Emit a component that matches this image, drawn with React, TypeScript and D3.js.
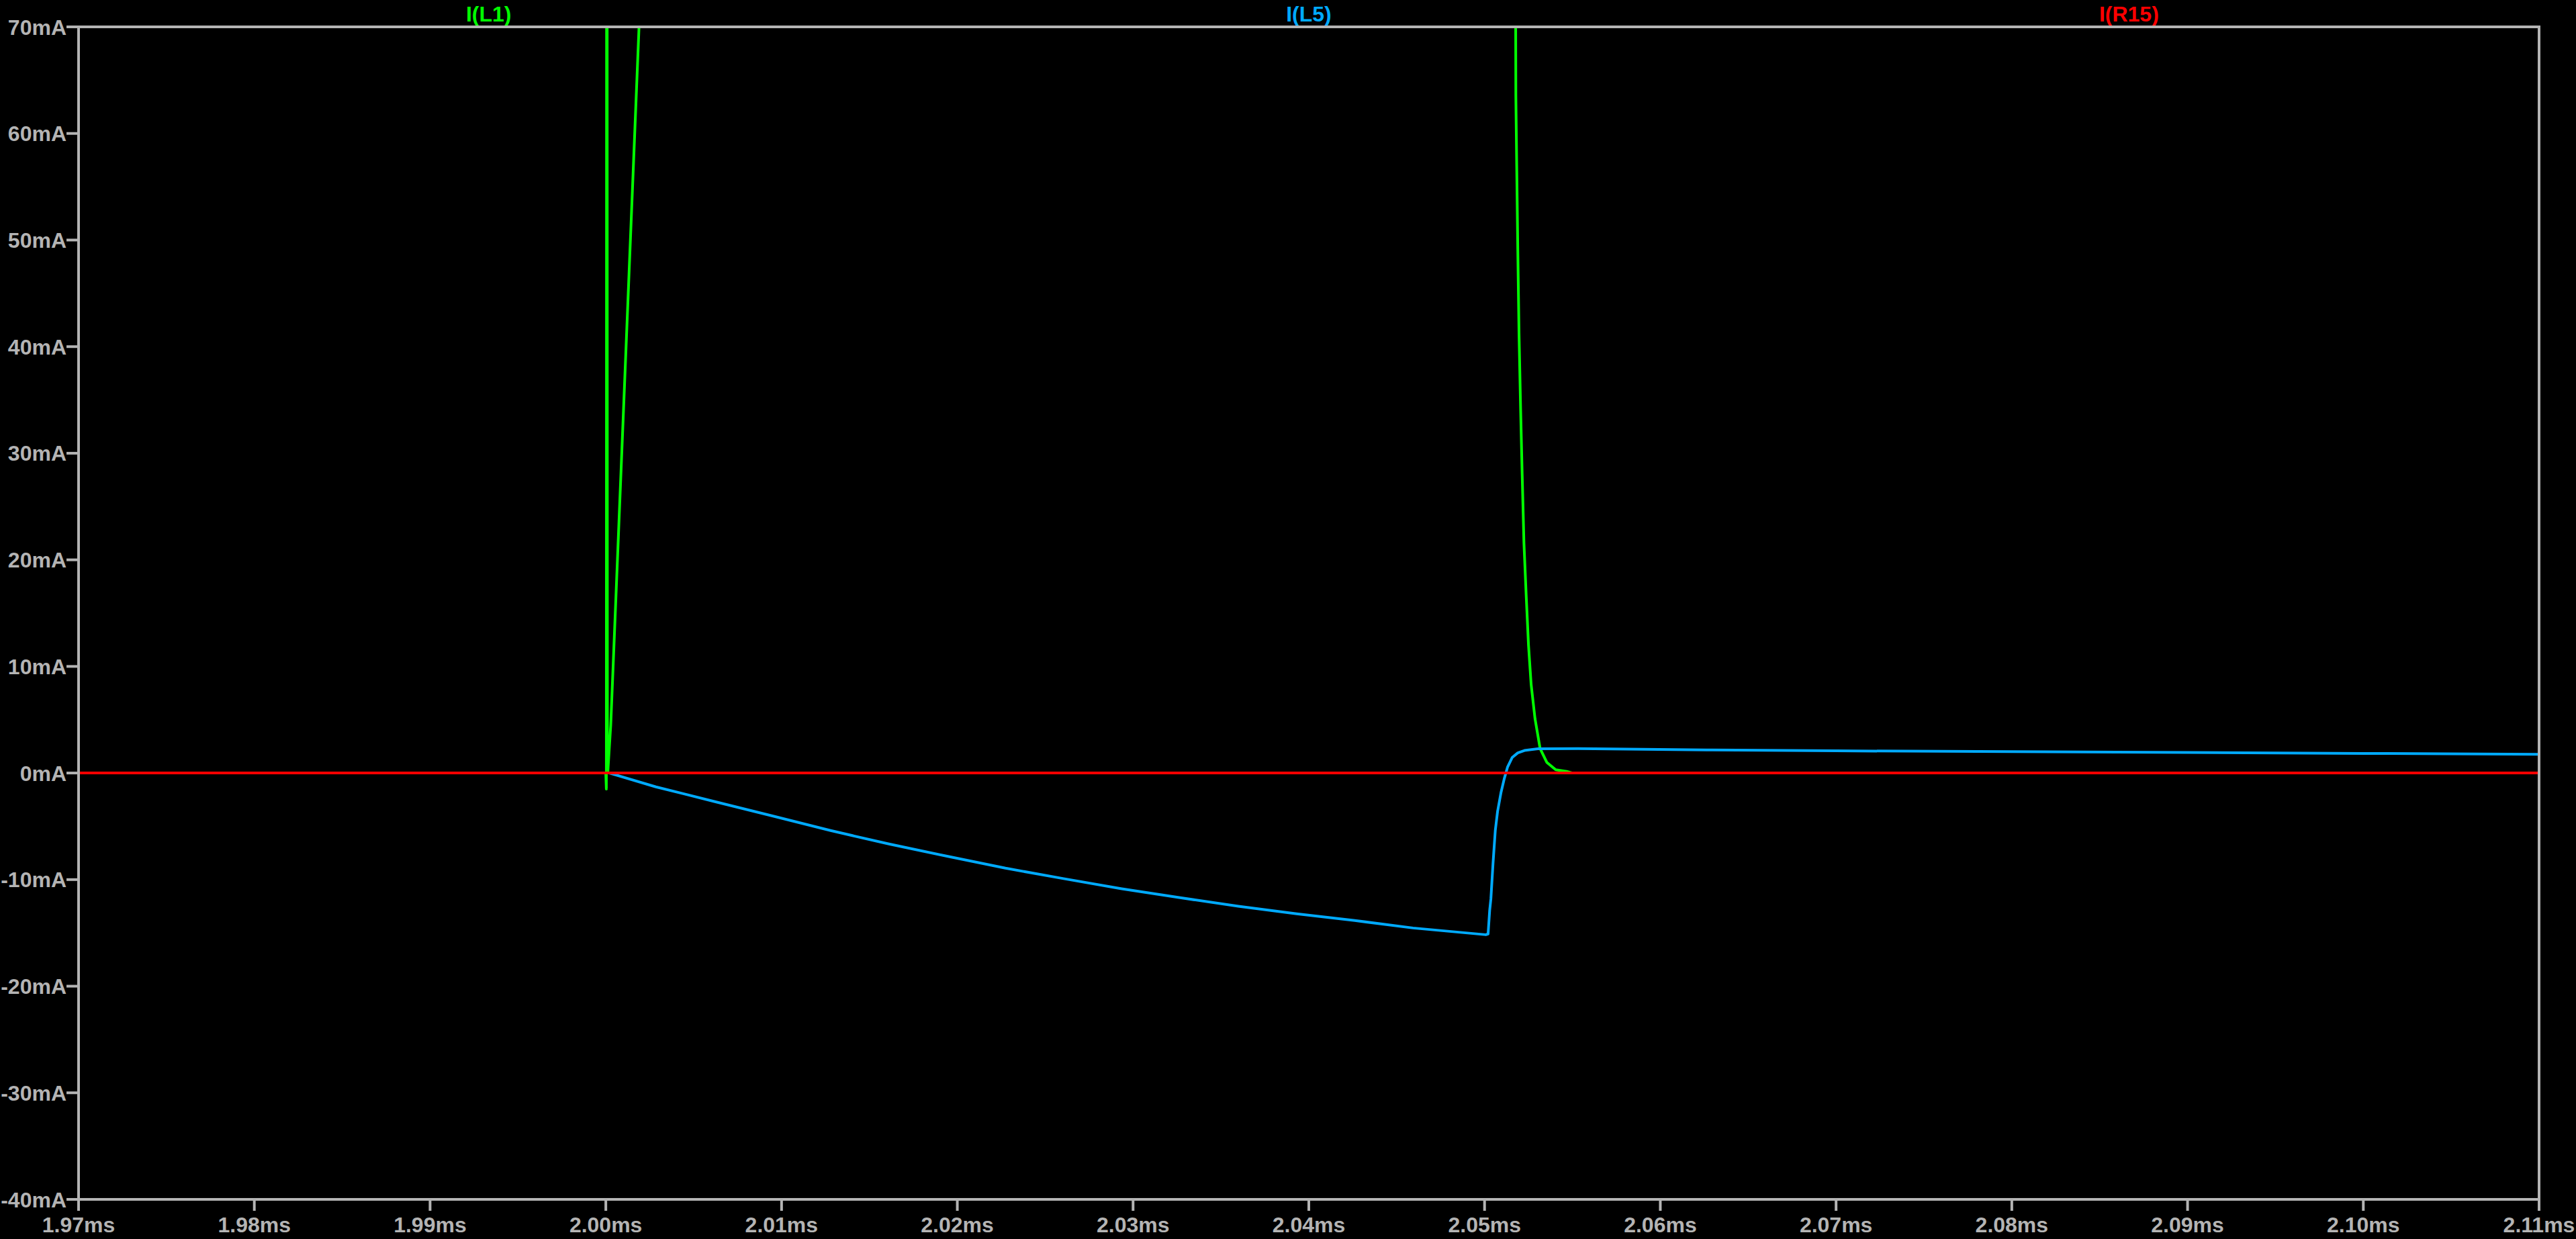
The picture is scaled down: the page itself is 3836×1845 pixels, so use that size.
import React, { useRef, useEffect } from 'react'
import * as d3 from "d3";

// time axis in ms, currents in mA
const xTicks = [1.97, 1.98, 1.99, 2.0, 2.01, 2.02, 2.03, 2.04, 2.05, 2.06, 2.07, 2.08, 2.09, 2.1, 2.11]
const yTicks = [70, 60, 50, 40, 30, 20, 10, 0, -10, -20, -30, -40]

const traceNames = ["I(L1)", "I(L5)", "I(R15)"]
const traceColors = ["#00ff00", "#00aaff", "#ff0000"]

// I(L1)
const l1Time = [1.97, 2.0, 2.00003, 2.00006, 2.00009, 2.00011, 2.00028, 2.00189, 2.05, 2.0517, 2.05177, 2.05178,
  2.05183, 2.05189, 2.05196, 2.05205, 2.05214, 2.05224, 2.05237, 2.0525, 2.05265, 2.05287, 2.05316, 2.05354,
  2.05405, 2.05467, 2.055, 2.11]
const l1Value = [0, 0, -1.5, 160, 2, 0, 4.5, 70, 1850, 110, 70, 63.5,
  56.9, 49.1, 41.3, 34.2, 28.0, 21.6, 16.6, 12.0, 8.3, 5.1, 2.3, 1.0,
  0.3, 0.15, 0, 0]

// I(L5)
const l5Time = [1.97, 2.0, 2.0002, 2.00285, 2.00617, 2.00948, 2.01279, 2.01611, 2.01942, 2.02274, 2.02605,
  2.02936, 2.03268, 2.03599, 2.03931, 2.04262, 2.04593, 2.05007, 2.0502, 2.05029, 2.05036, 2.05048, 2.05061,
  2.05074, 2.05093, 2.05112, 2.05131, 2.05157, 2.05189, 2.05227, 2.05303, 2.05533, 2.05991, 2.06297,
  2.07, 2.08, 2.09, 2.1, 2.11]
const l5Value = [0, 0, 0, -1.3, -2.67, -4.03, -5.4, -6.66, -7.81, -8.93, -9.91,
  -10.86, -11.7, -12.5, -13.21, -13.84, -14.54, -15.17, -15.1, -12.9, -11.8, -8.5, -5.4,
  -3.6, -1.87, -0.54, 0.57, 1.45, 1.89, 2.11, 2.27, 2.29, 2.21, 2.16,
  2.08, 2.0, 1.92, 1.84, 1.76]

// I(R15)
const r15Time = [1.97, 2.11]
const r15Value = [0, 0]

const width = 3836
const height = 1845
const margin = { top: 40, right: 55, bottom: 59, left: 117 }
const gray = "#b4b4b4"
const font = "'Liberation Sans', Arial, sans-serif"

const App: React.FC = () => {
  const ref = useRef<SVGSVGElement | null>(null)

  useEffect(() => {
    if (!ref.current) return
    const svg = d3.select(ref.current)
    svg.selectAll("*").remove()

    const x0 = margin.left
    const x1 = width - margin.right
    const y0 = margin.top
    const y1 = height - margin.bottom

    const xScale = d3.scaleLinear().domain([1.97, 2.11]).range([x0, x1])
    const yScale = d3.scaleLinear().domain([-40, 70]).range([y1, y0])

    svg.append("rect")
      .attr("width", width)
      .attr("height", height)
      .attr("fill", "#000")

    svg.append("defs").append("clipPath")
      .attr("id", "plot-clip")
      .append("rect")
      .attr("x", x0)
      .attr("y", y0)
      .attr("width", x1 - x0)
      .attr("height", y1 - y0)

    // ticks + labels
    const yAxis = svg.append("g")
    yAxis.selectAll("line")
      .data(yTicks)
      .join("line")
      .attr("x1", x0 - 18)
      .attr("x2", x0)
      .attr("y1", d => yScale(d))
      .attr("y2", d => yScale(d))
      .attr("stroke", gray)
      .attr("stroke-width", 4)
    yAxis.selectAll("text")
      .data(yTicks)
      .join("text")
      .attr("x", x0 - 18)
      .attr("y", d => yScale(d) + 11.5)
      .attr("text-anchor", "end")
      .attr("fill", gray)
      .attr("font-family", font)
      .attr("font-weight", "bold")
      .attr("font-size", 32)
      .text(d => `${d}mA`)

    const xAxis = svg.append("g")
    xAxis.selectAll("line")
      .data(xTicks)
      .join("line")
      .attr("x1", d => xScale(d))
      .attr("x2", d => xScale(d))
      .attr("y1", y1)
      .attr("y2", y1 + 17)
      .attr("stroke", gray)
      .attr("stroke-width", 4)
    xAxis.selectAll("text")
      .data(xTicks)
      .join("text")
      .attr("x", d => xScale(d))
      .attr("y", 1835)
      .attr("text-anchor", "middle")
      .attr("fill", gray)
      .attr("font-family", font)
      .attr("font-weight", "bold")
      .attr("font-size", 32)
      .text(d => `${d3.format(".2f")(d)}ms`)

    // trace names above the plot
    svg.append("g").selectAll("text")
      .data(traceNames)
      .join("text")
      .attr("x", (d, i) => x0 + (x1 - x0) * (2 * i + 1) / 6)
      .attr("y", 32)
      .attr("text-anchor", "middle")
      .attr("fill", (d, i) => traceColors[i])
      .attr("font-family", font)
      .attr("font-weight", "bold")
      .attr("font-size", 32)
      .text(d => d)

    // traces
    const series = [
      l1Time.map((t, i) => [t, l1Value[i]] as [number, number]),
      l5Time.map((t, i) => [t, l5Value[i]] as [number, number]),
      r15Time.map((t, i) => [t, r15Value[i]] as [number, number]),
    ]
    const lineGenerator = d3.line<[number, number]>()
      .x(d => xScale(d[0]))
      .y(d => yScale(d[1]))

    const plot = svg.append("g").attr("clip-path", "url(#plot-clip)")
    series.forEach((s, i) => {
      plot.append("path")
        .attr("d", lineGenerator(s))
        .attr("fill", "none")
        .attr("stroke", traceColors[i])
        .attr("stroke-width", 4)
        .attr("stroke-linejoin", "round")
    })

    // frame
    svg.append("rect")
      .attr("x", x0)
      .attr("y", y0)
      .attr("width", x1 - x0)
      .attr("height", y1 - y0)
      .attr("fill", "none")
      .attr("stroke", gray)
      .attr("stroke-width", 4)
  }, [])

  return (
    <svg
      ref={ref}
      width={width}
      height={height}
      style={{ position: "absolute", left: 0, top: 0, display: "block" }}
    />
  )
}

export default App
